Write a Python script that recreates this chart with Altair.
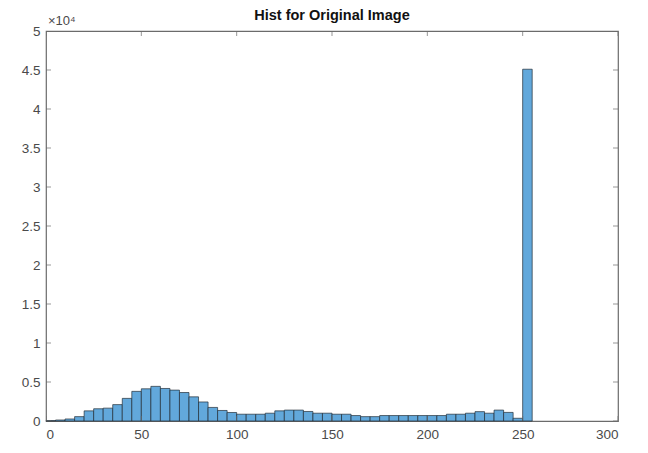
import altair as alt
import pandas as pd

# Histogram counts, bins of width 5 starting at 0
counts = [50, 130, 260, 560, 1300, 1570, 1650, 2100, 2900, 3800,
          4130, 4440, 4170, 3960, 3650, 3100, 2440, 1740, 1350, 1090,
          870, 870, 870, 1000, 1300, 1400, 1400, 1220, 1000, 1000,
          870, 870, 700, 560, 560, 700, 700, 700, 700, 700,
          700, 700, 870, 870, 1000, 1200, 1000, 1400, 1100, 350,
          45100]
bin_width = 5
x_ticks = [0, 50, 100, 150, 200, 250, 300]
y_ticks = [0, 5000, 10000, 15000, 20000, 25000, 30000, 35000, 40000, 45000, 50000]

df = pd.DataFrame({
    "start": [i * bin_width for i in range(len(counts))],
    "end": [(i + 1) * bin_width for i in range(len(counts))],
    "count": counts,
})
xt = pd.DataFrame({"v": x_ticks})
yt = pd.DataFrame({"v": y_ticks})

FONT = "Liberation Sans"
AX = "#6b6b6b"

xscale = alt.Scale(domain=[0, 300], nice=False, zero=False)
yscale = alt.Scale(domain=[0, 50000], nice=False)

xaxis = alt.Axis(values=x_ticks, ticks=False, domain=False, grid=False,
                 labelFont=FONT, labelFontSize=13.5, labelColor="#4a4a4a",
                 labelPadding=6, title=None, format="d")
yaxis = alt.Axis(values=y_ticks, ticks=False, domain=False, grid=False,
                 labelExpr="format(datum.value / 10000, '')",
                 labelOverlap=False,
                 labelFont=FONT, labelFontSize=13.5, labelColor="#4a4a4a",
                 labelPadding=6, title=None)

bars = alt.Chart(df).mark_bar(
    color="#62A8DB", stroke="#1f2a33", strokeWidth=0.8, strokeOpacity=0.85
).encode(
    x=alt.X("start:Q", scale=xscale, axis=xaxis),
    x2="end:Q",
    y=alt.Y("count:Q", scale=yscale, axis=yaxis),
    y2=alt.datum(0),
)

exponent = alt.Chart(pd.DataFrame({"t": ["×10⁴"]})).mark_text(
    align="left", baseline="bottom", font=FONT, fontSize=13, color="#4a4a4a",
    dx=2, dy=-3
).encode(x=alt.datum(0, scale=xscale, axis=xaxis),
         y=alt.datum(50000, scale=yscale, axis=yaxis), text="t:N")

tick_style = dict(color=AX, thickness=1, size=10, clip=True)

left_ticks = alt.Chart(yt).mark_tick(orient="horizontal", **tick_style).encode(
    x=alt.datum(0, scale=xscale, axis=xaxis), y=alt.Y("v:Q", scale=yscale, axis=yaxis))
right_ticks = alt.Chart(yt).mark_tick(orient="horizontal", **tick_style).encode(
    x=alt.datum(300, scale=xscale, axis=xaxis), y=alt.Y("v:Q", scale=yscale, axis=yaxis))
bottom_ticks = alt.Chart(xt).mark_tick(orient="vertical", **tick_style).encode(
    x=alt.X("v:Q", scale=xscale, axis=xaxis), y=alt.datum(0, scale=yscale, axis=yaxis))
top_ticks = alt.Chart(xt).mark_tick(orient="vertical", **tick_style).encode(
    x=alt.X("v:Q", scale=xscale, axis=xaxis), y=alt.datum(50000, scale=yscale, axis=yaxis))

chart = alt.layer(bars, left_ticks, right_ticks, bottom_ticks, top_ticks, exponent).properties(
    width=572, height=390,
    title=alt.TitleParams("Hist for Original Image", font=FONT, fontSize=14.5,
                          fontWeight="bold", color="#111111", anchor="middle",
                          offset=-8),
    autosize=alt.AutoSizeParams(type="none"),
    padding={"left": 38, "top": 23, "right": 22, "bottom": 24},
    background="white",
).configure_view(stroke=AX, strokeWidth=1.2)

chart.save("out.html", embed_options={"renderer": "svg", "actions": False})
